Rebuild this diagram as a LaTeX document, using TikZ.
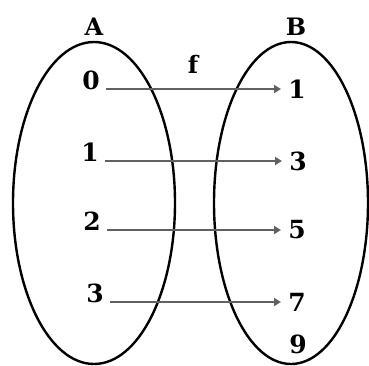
\documentclass[tikz,border=0pt]{standalone}
\usepackage{fontspec}
\setmainfont{DejaVu Serif}
\usetikzlibrary{arrows.meta, positioning}

\begin{document}
\begin{tikzpicture}[
            x=1pt, y=-1pt,
            semithick,
            elem/.style={font=\fontsize{25}{25}\selectfont\bfseries, inner sep=2pt},
            setname/.style={font=\fontsize{24}{24}\selectfont\bfseries},
            set/.style={line width=2.4pt},
            fmap/.style={draw=black!62, line width=2pt, -{Triangle[length=7pt,width=8pt]},
                         shorten <=4pt, shorten >=5pt}
        ]
        \useasboundingbox (0,0) rectangle (369,365);

        % the two sets
        \draw[set] (94,203) ellipse [x radius=81pt, y radius=161pt];
        \draw[set] (291,203) ellipse [x radius=77pt, y radius=161pt];
        \node[setname] (A) at (94,27) {A};
        \node[setname] (B) at (296,27) {B};
        \node[setname] (f) at (193,64) {f};

        % domain
        \node[elem, anchor=base] (a0) at (91,89) {0};
        \node[elem, anchor=base] (a1) at (90,161) {1};
        \node[elem, anchor=base] (a2) at (92,230) {2};
        \node[elem, anchor=base] (a3) at (95,302) {3};

        % codomain
        \node[elem] (b1) at (297,89) {1};
        \node[elem] (b3) at (298,161) {3};
        \node[elem] (b5) at (297,230) {5};
        \node[elem] (b7) at (297,302) {7};
        \node[elem] (b9) at (298,344) {9};

        \path (a0.base east) edge[fmap] (b1.west);
        \path (a1.base east) edge[fmap] (b3.west);
        \path (a2.base east) edge[fmap] (b5.west);
        \path (a3.base east) edge[fmap] (b7.west);

    \end{tikzpicture}
\end{document}
